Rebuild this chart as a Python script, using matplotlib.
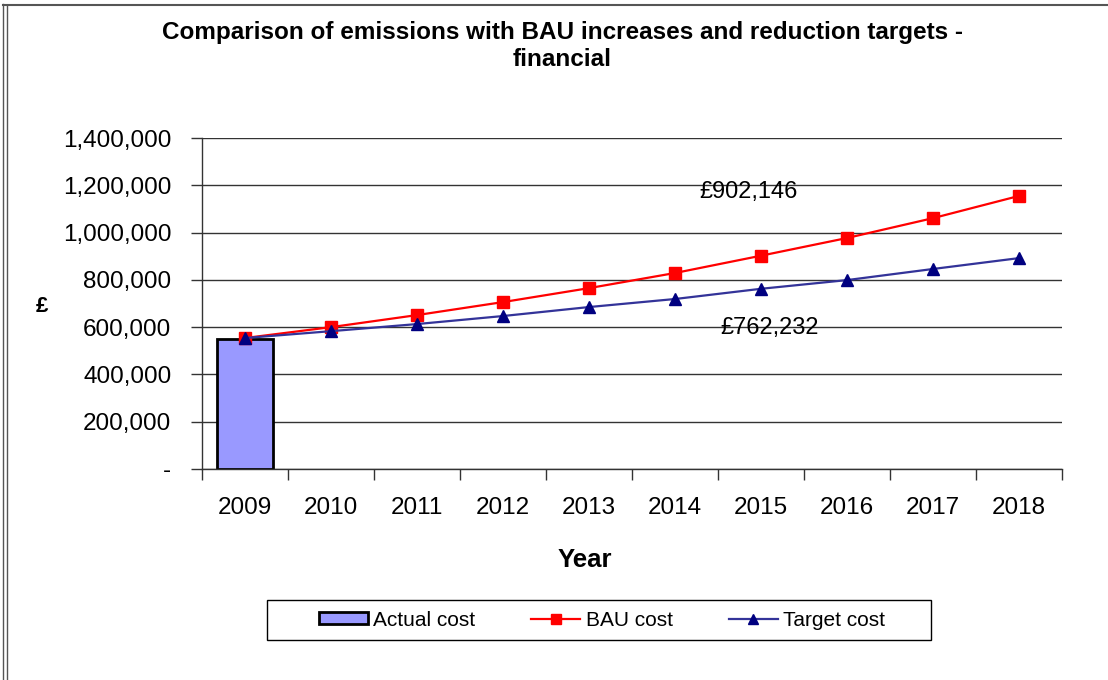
import matplotlib.pyplot as plt
import numpy as np
from matplotlib.lines import Line2D
from matplotlib.patches import Rectangle
from matplotlib.ticker import FuncFormatter, MultipleLocator

plt.rcParams['font.family'] = ['Liberation Sans', 'DejaVu Sans']

years = ['2009', '2010', '2011', '2012', '2013', '2014', '2015', '2016', '2017', '2018']
actual_cost = [550000]
bau_cost = [554000, 600000, 651000, 706000, 765000, 829000, 902146, 977000, 1061000, 1155000]
target_cost = [554000, 583000, 613000, 647000, 685000, 719000, 762232, 799000, 846000, 892000]

W, H = 1108, 680
fig = plt.figure(figsize=(W / 100, H / 100), dpi=100)
ax = fig.add_axes([202 / W, 1 - 469 / H, 860 / W, 331 / H])

x = np.arange(len(years))

bars = ax.bar(x[:len(actual_cost)], actual_cost, width=0.66, color='#9999ff',
              edgecolor='black', linewidth=2, zorder=2, label='Actual cost')
bau_line, = ax.plot(x, bau_cost, color='#ff0000', lw=1.6, marker='s', ms=8.5,
                    zorder=3, label='BAU cost')
target_line, = ax.plot(x, target_cost, color='#333399', lw=1.6, marker='^', ms=9,
                       mfc='#000080', mec='#000080', zorder=4, label='Target cost')

# data labels (placed loosely, as in the original)
ax.text(5.85, 1171000, '£902,146', ha='center', va='center', fontsize=17)
ax.text(6.1, 596000, '£762,232', ha='center', va='center', fontsize=17)

ax.set_xlim(-0.5, 9.5)
ax.set_ylim(0, 1400000)
ax.yaxis.set_major_locator(MultipleLocator(200000))
ax.yaxis.set_major_formatter(FuncFormatter(lambda v, p: '-' if v == 0 else f'{v:,.0f}'))
ax.grid(axis='y', color='#333333', lw=1, zorder=0)
ax.set_axisbelow(True)

ax.set_xticks(x)
ax.set_xticklabels(years)
ax.set_xticks(np.arange(-0.5, 10, 1), minor=True)
ax.tick_params(axis='x', which='major', length=0, pad=20, labelsize=17.5)
ax.tick_params(axis='x', which='minor', length=8, width=1, color='#333333')
ax.tick_params(axis='y', length=8, width=1, color='#333333', pad=14, labelsize=17.5)

for s in ['top', 'right']:
    ax.spines[s].set_visible(False)
for s in ['left', 'bottom']:
    ax.spines[s].set_color('#333333')
    ax.spines[s].set_linewidth(1)

fig.text(585 / W, 1 - 560 / H, 'Year', fontsize=18.5, fontweight='bold', ha='center', va='center')
fig.text(42 / W, 1 - 307 / H, '£', fontsize=16, fontweight='bold', ha='center', va='center')

fig.text(562 / W, 1 - 33 / H, 'Comparison of emissions with BAU increases and reduction targets -',
         fontsize=17.5, fontweight='bold', ha='center', va='center')
fig.text(562 / W, 1 - 60 / H, 'financial',
         fontsize=17.5, fontweight='bold', ha='center', va='center')

leg = ax.legend(handles=[bars, bau_line, target_line],
                loc='center', bbox_to_anchor=(602 / W, 1 - 620 / H),
                bbox_transform=fig.transFigure, ncol=3, frameon=False,
                fontsize=15, handlelength=2.35, handleheight=0.5,
                columnspacing=2.7, handletextpad=0.25, markerscale=0.8)
fig.add_artist(Rectangle((267 / W, 1 - 640 / H), 664 / W, 40 / H, transform=fig.transFigure,
                         fill=False, edgecolor='black', lw=1))

# chart area border
fig.add_artist(Line2D([3 / W, 3 / W], [0, 1 - 4 / H], transform=fig.transFigure,
                      color='#555555', lw=1))
fig.add_artist(Line2D([7 / W, 7 / W], [0, 1 - 6 / H], transform=fig.transFigure,
                      color='#555555', lw=1))
fig.add_artist(Line2D([3 / W, 1], [1 - 5 / H, 1 - 5 / H], transform=fig.transFigure,
                      color='#555555', lw=1.5))

fig.savefig('out.png', dpi=100)
